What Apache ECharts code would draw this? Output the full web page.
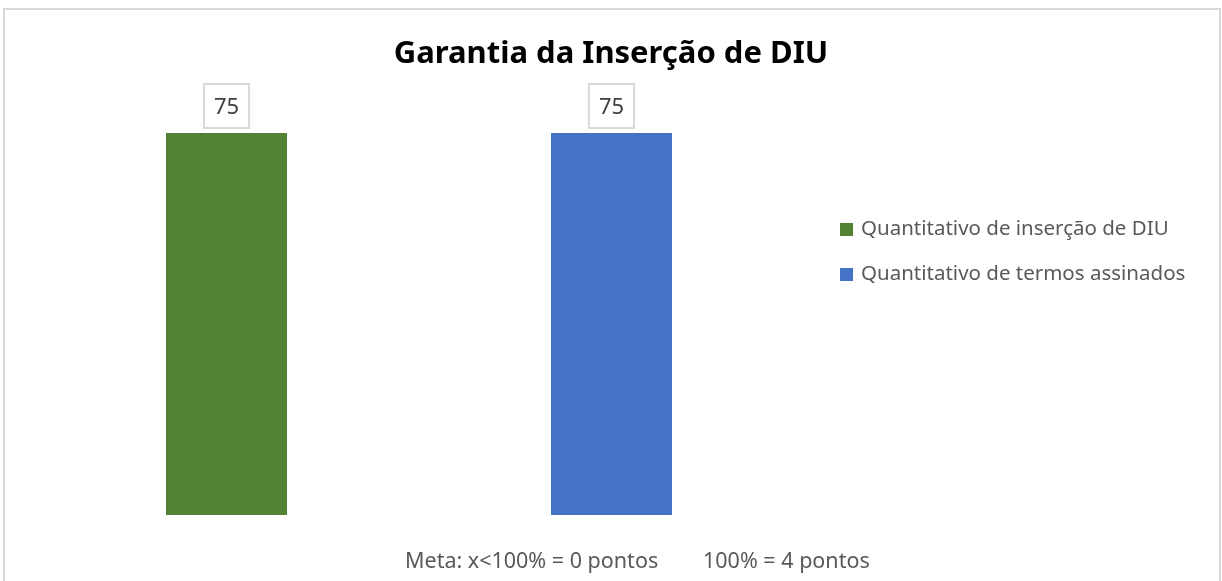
<!DOCTYPE html>
<html>
<head>
<meta charset="utf-8">
<script src="https://cdn.jsdelivr.net/npm/echarts@6/dist/echarts.min.js"></script>
<style>
  html, body { margin: 0; padding: 0; background: #fff; }
  #chart { width: 1222px; height: 581px; }
</style>
</head>
<body>
<div id="chart"></div>
<script>
// dados do gráfico
const categorias = ['Quantitativo de inserção de DIU', 'Quantitativo de termos assinados'];
const valorInsercao = [75, '-'];
const valorTermos = ['-', 75];
const cores = ['#548235', '#4472c4'];
const metaTextos = ['Meta: x<100% = 0 pontos', '100% = 4 pontos'];

const myChart = echarts.init(document.getElementById('chart'));

const labelBox = {
  show: true,
  position: 'top',
  distance: 6,
  color: '#404040',
  fontFamily: 'Noto Sans',
  fontSize: 22,
  backgroundColor: '#fff',
  borderColor: '#d9d9d9',
  borderWidth: 2,
  padding: [12, 9, 8, 9]
};

myChart.setOption({
  animation: false,
  title: {
    text: 'Garantia da Inserção de DIU',
    left: 'center',
    top: 34,
    textStyle: {
      fontFamily: 'Noto Sans',
      fontWeight: 'bold',
      fontSize: 31,
      color: '#000'
    }
  },
  legend: {
    orient: 'vertical',
    left: 835,
    top: 214,
    itemWidth: 13,
    itemHeight: 13,
    itemGap: 24,
    icon: 'rect',
    textStyle: {
      fontFamily: 'Noto Sans',
      fontSize: 20.5,
      color: '#595959',
      padding: [0, 0, 0, 3]
    },
    data: categorias
  },
  grid: {
    left: 34,
    right: 1222 - 804,
    top: 133,
    bottom: 581 - 515
  },
  xAxis: {
    type: 'category',
    data: ['a', 'b'],
    show: false
  },
  yAxis: {
    type: 'value',
    min: 0,
    max: 75,
    show: false
  },
  series: [
    {
      name: categorias[0],
      type: 'bar',
      data: valorInsercao,
      barWidth: 121,
      barGap: '-100%',
      itemStyle: { color: cores[0] },
      label: labelBox
    },
    {
      name: categorias[1],
      type: 'bar',
      data: valorTermos,
      barWidth: 121,
      itemStyle: { color: cores[1] },
      label: labelBox
    }
  ],
  graphic: [
    {
      type: 'rect',
      shape: { x: 4, y: 9, width: 1216, height: 620 },
      style: { fill: 'none', stroke: '#d9d9d9', lineWidth: 2 },
      silent: true
    },
    {
      type: 'text',
      left: 405,
      top: 551,
      style: { text: metaTextos[0], fontFamily: 'Noto Sans', fontSize: 21.5, fill: '#595959' }
    },
    {
      type: 'text',
      left: 703,
      top: 551,
      style: { text: metaTextos[1], fontFamily: 'Noto Sans', fontSize: 21.5, fill: '#595959' }
    }
  ]
});
</script>
</body>
</html>
